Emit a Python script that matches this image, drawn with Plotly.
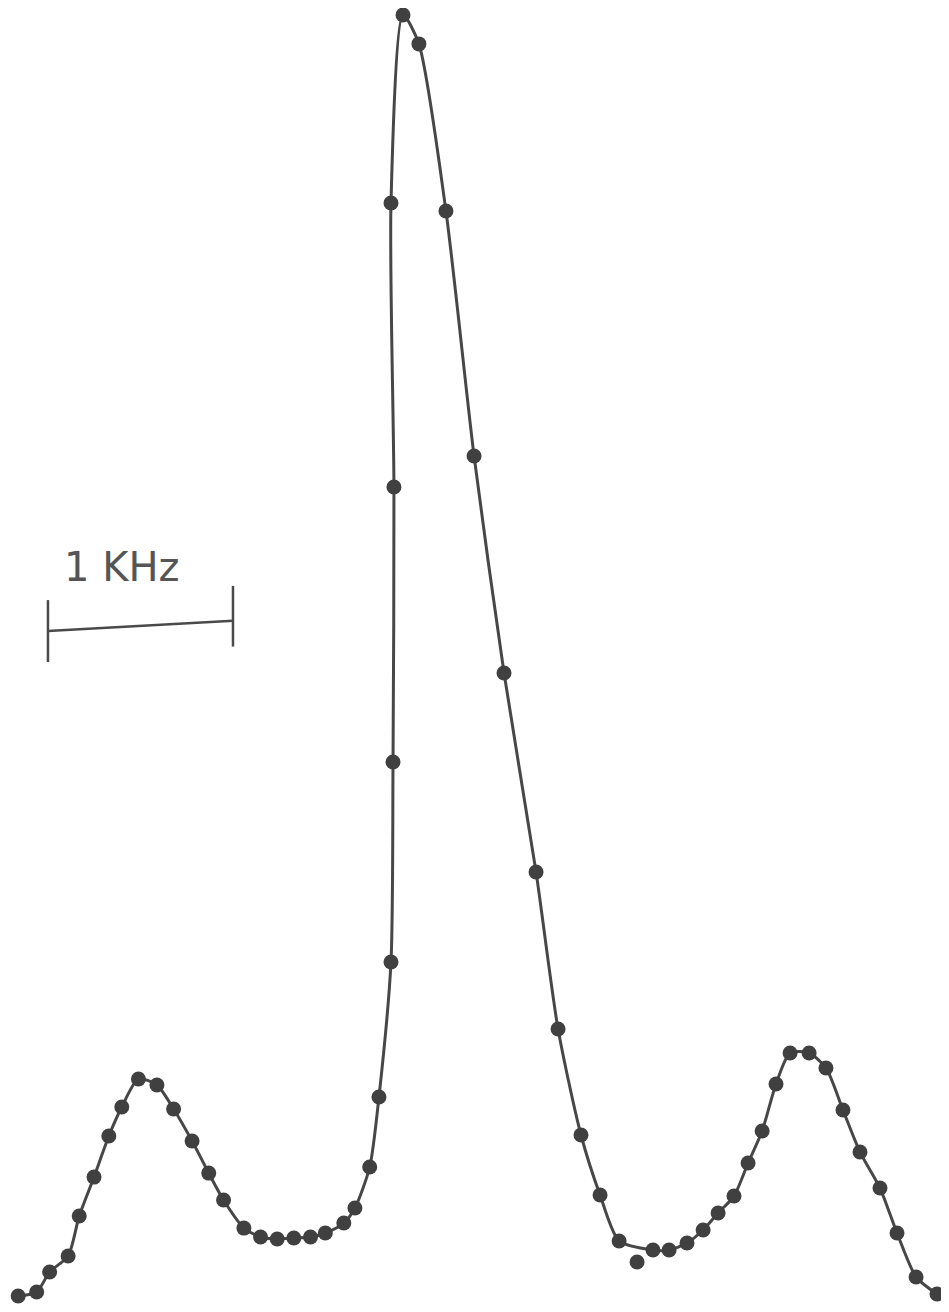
import plotly.graph_objects as go

# Frequency offset from main peak (kHz) and relative amplitude (arbitrary units, peak = 100)
freq_khz = [-2.08, -1.98, -1.91, -1.81, -1.75, -1.67, -1.59, -1.52, -1.43, -1.33,
            -1.24, -1.14, -1.05, -0.97, -0.86, -0.77, -0.68, -0.59, -0.50, -0.42,
            -0.32, -0.26, -0.18, -0.13, -0.065, -0.054, -0.049, -0.065, 0.0, 0.086,
            0.232, 0.384, 0.546, 0.719, 0.838, 0.962, 1.065, 1.168, 1.265, 1.351,
            1.438, 1.535, 1.622, 1.703, 1.789, 1.865, 1.941, 2.016, 2.092, 2.195,
            2.286, 2.378, 2.470, 2.578, 2.670, 2.773, 2.886]
amplitude = [0.70, 1.01, 2.56, 3.80, 6.89, 9.91, 13.09, 15.34, 17.51, 17.04,
             15.18, 12.70, 10.22, 8.13, 5.96, 5.27, 5.11, 5.19, 5.27, 5.58,
             6.35, 7.51, 10.69, 16.11, 26.57, 42.06, 63.36, 85.36, 99.92, 97.68,
             84.74, 65.76, 48.95, 33.54, 21.38, 13.17, 8.52, 4.96, 3.33, 4.26,
             4.26, 4.80, 5.81, 7.13, 8.44, 11.00, 13.48, 17.12, 19.52, 19.52,
             18.36, 15.10, 11.85, 9.06, 5.58, 2.17, 0.85]
# index of the measured point that lies off the drawn curve
off_curve = [38]

scale_bar_start_khz = -1.919
scale_bar_length_khz = 1.0
scale_bar_label = "1 KHz"

curve_x = [f for i, f in enumerate(freq_khz) if i not in off_curve]
curve_y = [a for i, a in enumerate(amplitude) if i not in off_curve]

fig = go.Figure()
fig.add_trace(go.Scatter(
    x=curve_x, y=curve_y, mode="lines",
    line=dict(color="#474747", width=3, shape="spline", smoothing=0.7),
    hoverinfo="skip", showlegend=False))
fig.add_trace(go.Scatter(
    x=freq_khz, y=amplitude, mode="markers",
    marker=dict(size=15, color="#404040", line=dict(width=0)),
    showlegend=False))

x0 = scale_bar_start_khz
x1 = scale_bar_start_khz + scale_bar_length_khz
lc = dict(color="#4a4a4a", width=2.5)
fig.add_shape(type="line", x0=x0, x1=x1, y0=52.2, y1=53.0, line=lc)
fig.add_shape(type="line", x0=x0, x1=x0, y0=49.8, y1=54.6, line=lc)
fig.add_shape(type="line", x0=x1, x1=x1, y0=51.0, y1=55.7, line=lc)
fig.add_annotation(x=-1.524, y=57.2, text=scale_bar_label, showarrow=False,
                   font=dict(family="DejaVu Sans", size=40, color="#555555"),
                   xanchor="center", yanchor="middle")

# figure sits at the page's 8px body margin; size it to fill the window exactly
fig.update_layout(
    width=941, height=1304,
    margin=dict(l=0, r=0, t=0, b=0),
    paper_bgcolor="white", plot_bgcolor="white",
    xaxis=dict(range=[-2.135, 2.951], visible=False),
    yaxis=dict(range=[-0.54, 100.46], visible=False),
)
fig.write_html("out.html")
